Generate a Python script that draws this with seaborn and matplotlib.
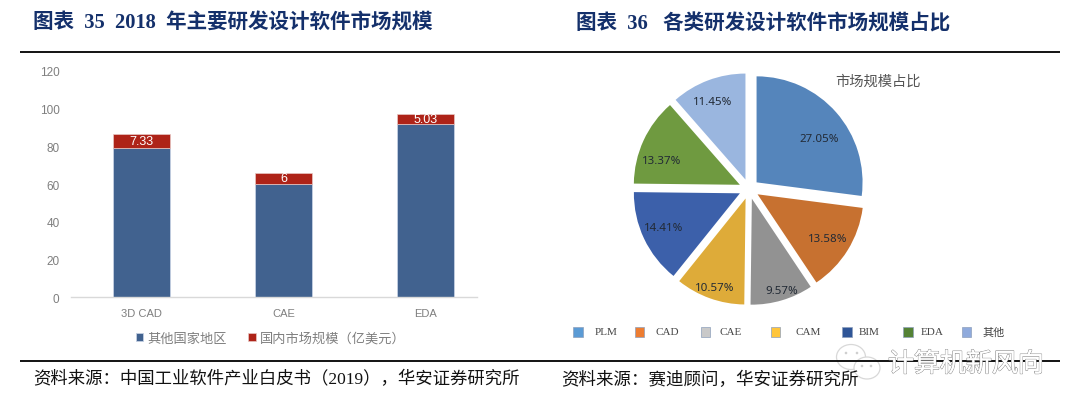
import matplotlib
matplotlib.use('Agg')
import matplotlib.pyplot as plt
from matplotlib.patches import Ellipse, Rectangle
import matplotlib.patheffects as pe
import seaborn as sns

categories = ['3D CAD', 'CAE', 'EDA']
other_regions = [79.3, 60, 92]
domestic = [7.33, 6, 5.03]
domestic_labels = ['7.33', '6', '5.03']
series_names = ['其他国家地区', '国内市场规模（亿美元）']

pie_names = ['PLM', 'CAD', 'CAE', 'CAM', 'BIM', 'EDA', '其他']
pie_values = [27.05, 13.58, 9.57, 10.57, 14.41, 13.37, 11.45]
pie_colors = ['#5585bb', '#c77130', '#929292', '#deab39', '#3c60aa', '#6f9a40', '#9ab6df']
swatch_colors = ['#5b9bd5', '#ed7d31', '#c9c9c9', '#ffc53a', '#2f5597', '#548235', '#8faadc']

W, H = 1080, 414
NAVY = '#14306b'
CJK = 'Noto Sans CJK SC'
LAT_CJK = ['Liberation Serif', CJK]
SANS_CJK = ['Liberation Sans', CJK]

sns.set_theme(style='white')
plt.rcParams['font.family'] = SANS_CJK

fig = plt.figure(figsize=(W / 100, H / 100), dpi=100)
fig.patch.set_facecolor('white')

def px_axes(left, top, right, bottom, **kw):
    return fig.add_axes([left / W, 1 - bottom / H, (right - left) / W, (bottom - top) / H], **kw)

# bars
ax = px_axes(70.6, 71.7, 477, 298.3)
sns.barplot(x=categories, y=other_regions, color='#41628f', saturation=1, width=0.4,
            edgecolor='#c5d0e2', linewidth=0.6, label=series_names[0], ax=ax)
sns.barplot(x=categories, y=domestic, bottom=other_regions, color='#ae2318', saturation=1, width=0.4,
            edgecolor='#e8c8c4', linewidth=0.5, label=series_names[1], ax=ax)
ax.bar_label(ax.containers[1], labels=domestic_labels, label_type='center', color='white',
             fontsize=9, family='Liberation Sans', padding=0)
ax.set_xlim(-0.5, 2.36)
ax.set_ylim(0, 120)
ax.set_yticks(range(0, 121, 20))
ax.tick_params(axis='both', length=0, colors='#7f7f7f', labelsize=8.5)
ax.tick_params(axis='x', pad=8, labelsize=8)
ax.tick_params(axis='y', pad=8)
sns.despine(ax=ax, left=True)
ax.spines['bottom'].set_color('#d9d9d9')
ax.spines['bottom'].set_linewidth(1)
ax.legend(handles=list(ax.containers), loc='center', ncol=2, frameon=False,
          bbox_to_anchor=(271 / W, 1 - 339.3 / H), bbox_transform=fig.transFigure,
          prop={'family': CJK, 'size': 9.5}, labelcolor='#7f7f7f',
          handlelength=0.55, handleheight=0.55, handletextpad=0.35, columnspacing=1.6)

# pie, centre (749,190), radius 106 px
cx, cy, rad = 749, 190, 106
pie_ax = px_axes(cx - 1.3 * rad, cy - 1.3 * rad, cx + 1.3 * rad, cy + 1.3 * rad)
wedges, texts, autotexts = pie_ax.pie(
    pie_values, colors=pie_colors, explode=[0.095] * 7, startangle=90, counterclock=False,
    autopct='%.2f%%', pctdistance=0.8, radius=1, wedgeprops={'linewidth': 0})
# labels sit off the wedge axis in the original, shift in px (x right, y down)
label_nudge = [(-1, 12), (-2, -1), (6, 11), (-2, 9), (0, -2), (-1, 11), (-3, 1)]
for t, (nx, ny) in zip(autotexts, label_nudge):
    t.set_family('Noto Sans')
    t.set_fontsize(8.3)
    t.set_color('#222a35')
    x0, y0 = t.get_position()
    t.set_position((x0 + nx / rad, y0 - ny / rad))
pie_ax.set_xlim(-1.3, 1.3)
pie_ax.set_ylim(-1.3, 1.3)

# page furniture in pixel coordinates
over = fig.add_axes([0, 0, 1, 1], zorder=5)
over.set_xlim(0, W)
over.set_ylim(H, 0)
over.axis('off')
over.patch.set_alpha(0)

for y in (53, 362):
    over.plot([20, 1060], [y, y], color='black', lw=1.3, solid_capstyle='butt')

over.text(33, 24, '图表  35  2018  年主要研发设计软件市场规模', family=LAT_CJK, weight='bold',
          fontsize=14.8, color=NAVY, va='center', ha='left')
over.text(575.5, 24, '图表  36   各类研发设计软件市场规模占比', family=LAT_CJK, weight='bold',
          fontsize=14.8, color=NAVY, va='center', ha='left')
over.text(33, 380, '资料来源：中国工业软件产业白皮书（2019），华安证券研究所', family=LAT_CJK,
          fontsize=12.5, color='#111111', va='center', ha='left')
over.text(560.7, 380, '资料来源：赛迪顾问，华安证券研究所', family=LAT_CJK,
          fontsize=12.6, color='#111111', va='center', ha='left')
over.text(835.5, 81.7, '市场规模占比', family=CJK, fontsize=10.3, color='#555555', va='center', ha='left')

# pie legend
swatch_x = [573.4, 634.7, 700.5, 770.7, 842.3, 903.3, 961.5]
label_x = [595, 655.7, 719.8, 796, 858.9, 920.2, 982.5]
for sx, lx, name, col in zip(swatch_x, label_x, pie_names, swatch_colors):
    over.add_patch(Rectangle((sx, 328), 9.5, 9.5, facecolor=col, edgecolor='#8ea0bc', lw=0.5))
    over.text(lx, 332.7, name, family=LAT_CJK, fontsize=8, color='#444444', va='center', ha='left')

# watermark
for (ex, ey, ew, eh) in [(851, 358, 29, 25), (867, 369, 26, 22)]:
    over.add_patch(Ellipse((ex, ey), ew, eh, facecolor='white', edgecolor='#d8d8d8', lw=0.9))
for (dx, dy) in [(846, 354), (857, 354), (862, 367), (871, 367)]:
    over.add_patch(Ellipse((dx, dy), 2.6, 2.6, facecolor='#cfcfcf', edgecolor='none'))
over.text(888, 365, '计算机新风向', family=CJK, fontsize=18.7, color='white', va='center', ha='left',
          path_effects=[pe.withStroke(linewidth=0.9, foreground='#8c8c8c'), pe.Normal()])

fig.savefig('out.png', dpi=100)
